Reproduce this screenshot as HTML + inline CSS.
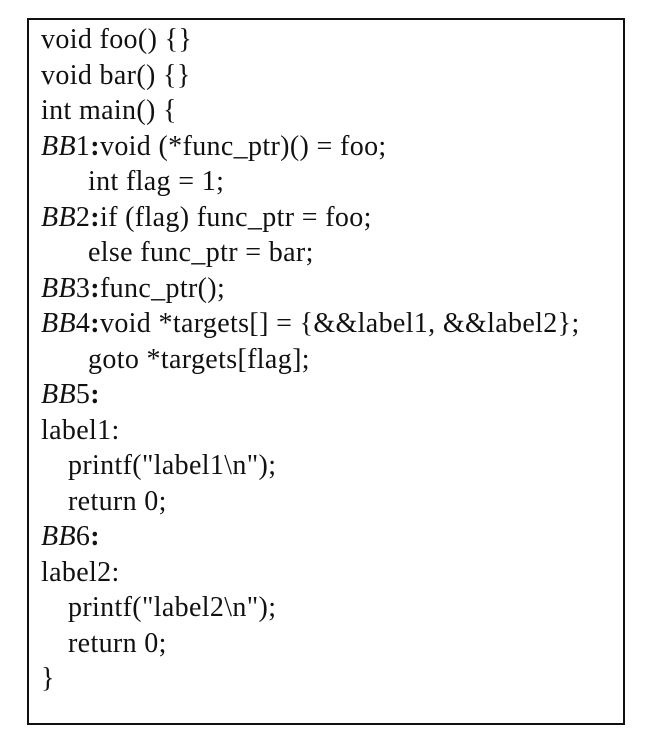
<!DOCTYPE html>
<html><head><meta charset="utf-8"><style>
html,body{margin:0;padding:0;background:#fff;width:652px;height:743px;overflow:hidden}
.box{position:absolute;left:27px;top:18px;width:594px;height:703px;border:2.5px solid #111;}
.t{position:absolute;left:12px;top:2px;font-family:"Liberation Serif",serif;font-size:28px;line-height:35.5px;color:#111;white-space:pre;letter-spacing:0.35px}
.t div{height:35.5px}
.a{padding-left:47px}
.p{padding-left:27px}
i{font-style:italic}
b{font-weight:bold}
</style></head><body>
<div class="box"><div class="t"><div>void foo() {}</div><div>void bar() {}</div><div>int main() {</div><div><i>BB</i>1<b>:</b>void (*func_ptr)() = foo;</div><div class="a">int flag = 1;</div><div><i>BB</i>2<b>:</b>if (flag) func_ptr = foo;</div><div class="a">else func_ptr = bar;</div><div><i>BB</i>3<b>:</b>func_ptr();</div><div><i>BB</i>4<b>:</b>void *targets[] = {&amp;&amp;label1, &amp;&amp;label2};</div><div class="a">goto *targets[flag];</div><div><i>BB</i>5<b>:</b></div><div>label1:</div><div class="p">printf("label1\n");</div><div class="p">return 0;</div><div><i>BB</i>6<b>:</b></div><div>label2:</div><div class="p">printf("label2\n");</div><div class="p">return 0;</div><div>}</div></div></div>
</body></html>
